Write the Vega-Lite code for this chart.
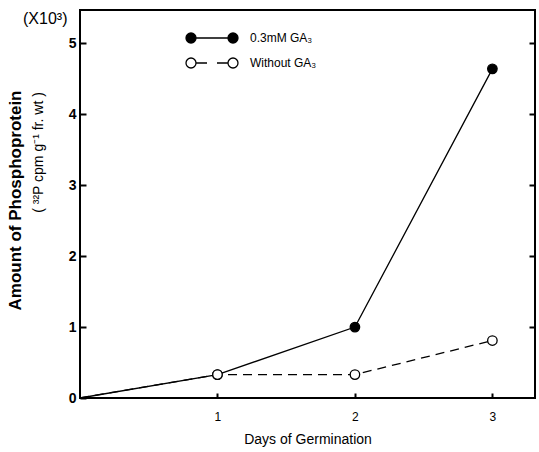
{
  "$schema": "https://vega.github.io/schema/vega-lite/v6.json",
  "width": 455,
  "height": 388,
  "autosize": "none",
  "padding": {"left": 80, "top": 10, "right": 4, "bottom": 54},
  "background": "white",
  "config": {
    "font": "Liberation Sans",
    "view": {"stroke": "black", "strokeWidth": 2},
    "axis": {"domain": false, "grid": false, "tickColor": "black", "tickWidth": 2, "labelColor": "black", "titleColor": "black"}
  },
  "title": {"text": "(X10³)", "anchor": "start", "frame": "group", "dx": -57, "offset": -17, "fontSize": 16, "fontWeight": "normal", "color": "black"},
  "data": {
    "values": [
      {"day": 0, "amount": 0, "series": "0.3mM GA₃"},
      {"day": 1, "amount": 0.33, "series": "0.3mM GA₃"},
      {"day": 2, "amount": 1.0, "series": "0.3mM GA₃"},
      {"day": 3, "amount": 4.64, "series": "0.3mM GA₃"},
      {"day": 0, "amount": 0, "series": "Without GA₃"},
      {"day": 1, "amount": 0.33, "series": "Without GA₃"},
      {"day": 2, "amount": 0.33, "series": "Without GA₃"},
      {"day": 3, "amount": 0.81, "series": "Without GA₃"}
    ]
  },
  "encoding": {
    "x": {"field": "day", "type": "quantitative", "scale": {"domain": [0, 3.31], "nice": false},
      "axis": {"values": [1, 2, 3], "title": "Days of Germination", "titleFontSize": 14, "titleFontWeight": "normal", "labelFontSize": 12, "tickSize": -5, "labelPadding": 18, "titlePadding": 10}}
  },
  "layer": [
    {
      "transform": [{"filter": "datum.series == '0.3mM GA₃'"}],
      "mark": {"type": "line", "strokeWidth": 1.3},
      "encoding": {
        "y": {"field": "amount", "type": "quantitative", "scale": {"domain": [0, 5.47], "nice": false},
          "axis": {"values": [0, 1, 2, 3, 4, 5], "title": "Amount of Phosphoprotein", "titleFontSize": 17, "titleFontWeight": "bold", "titleX": -65, "titleY": 190, "titleBaseline": "middle", "labelFontSize": 14, "labelFontWeight": "bold", "tickSize": -6, "labelPadding": 10}},
        "stroke": {"field": "series", "type": "nominal", "scale": {"domain": ["0.3mM GA₃", "Without GA₃"], "range": ["black", "black"]},
          "legend": {"title": null, "orient": "none", "legendX": 121, "legendY": 17, "padding": 0, "symbolSize": 400, "symbolStrokeColor": "black", "symbolStrokeWidth": 1.3, "labelFontSize": 12, "labelOffset": 27, "rowPadding": 6,
            "encode": {"symbols": {"update": {
              "stroke": {"value": "black"},
              "strokeWidth": {"value": 1.3},
              "strokeOpacity": {"value": 1},
              "fill": {"signal": "datum.value == 'Without GA₃' ? 'white' : 'black'"},
              "fillOpacity": {"value": 1},
              "opacity": {"value": 1},
              "shape": {"signal": "datum.value == 'Without GA₃' ? 'M-2.6,0a0.5,0.5 0 1,0 1,0a0.5,0.5 0 1,0 -1,0M-1.6,0L-0.5,0M0.5,0L1.6,0M1.6,0a0.5,0.5 0 1,0 1,0a0.5,0.5 0 1,0 -1,0' : 'M-2.6,0a0.5,0.5 0 1,0 1,0a0.5,0.5 0 1,0 -1,0M-1.6,0L1.6,0M1.6,0a0.5,0.5 0 1,0 1,0a0.5,0.5 0 1,0 -1,0'"}}}}}}
      }
    },
    {
      "transform": [{"filter": "datum.series == 'Without GA₃'"}],
      "mark": {"type": "line", "color": "black", "strokeWidth": 1.3, "strokeDash": [9, 6]},
      "encoding": {
        "y": {"field": "amount", "type": "quantitative", "scale": {"domain": [0, 5.47], "nice": false}, "axis": null}
      }
    },
    {
      "transform": [{"filter": "datum.series == '0.3mM GA₃' && datum.day > 0"}],
      "mark": {"type": "point", "shape": "circle", "size": 90, "stroke": "black", "strokeWidth": 1.3, "opacity": 1},
      "encoding": {
        "y": {"field": "amount", "type": "quantitative", "scale": {"domain": [0, 5.47], "nice": false},
          "axis": {"orient": "left", "title": "( ³²P cpm g⁻¹ fr. wt )", "titleFontSize": 14, "titleFontWeight": "normal", "titleX": -42, "titleY": 142, "titleBaseline": "middle", "labels": false, "ticks": false}},
        "fill": {"field": "series", "type": "nominal", "scale": {"domain": ["0.3mM GA₃", "Without GA₃"], "range": ["black", "white"]}, "legend": null}
      }
    },
    {
      "transform": [{"filter": "datum.series == 'Without GA₃' && datum.day > 0"}],
      "mark": {"type": "point", "shape": "circle", "size": 90, "stroke": "black", "strokeWidth": 1.3, "opacity": 1},
      "encoding": {
        "y": {"field": "amount", "type": "quantitative", "scale": {"domain": [0, 5.47], "nice": false},
          "axis": {"orient": "right", "values": [1, 2, 3, 4, 5], "title": null, "labels": false, "tickSize": -6}},
        "fill": {"field": "series", "type": "nominal", "scale": {"domain": ["0.3mM GA₃", "Without GA₃"], "range": ["black", "white"]}, "legend": null}
      }
    }
  ],
  "resolve": {"scale": {"y": "independent"}}
}
